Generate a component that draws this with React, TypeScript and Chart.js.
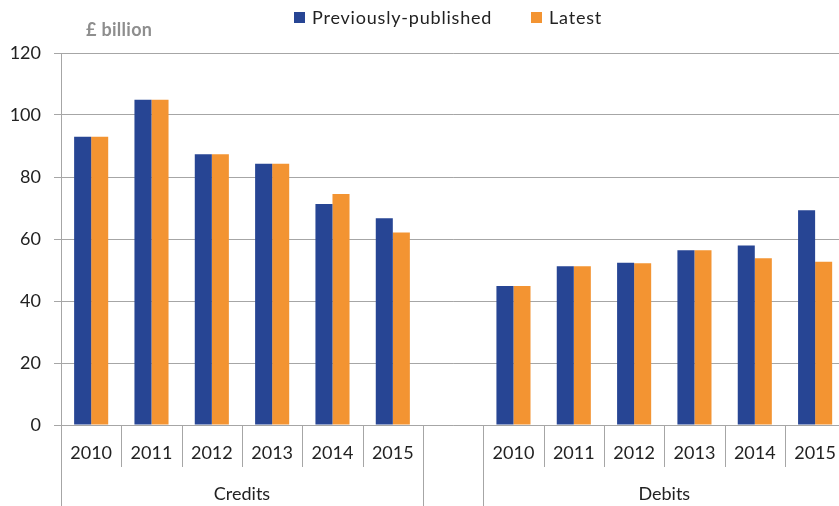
import React, { useEffect, useRef } from "react";
import { Chart, registerables } from "chart.js";

Chart.register(...registerables);

const categories = ["2010", "2011", "2012", "2013", "2014", "2015", "", "2010", "2011", "2012", "2013", "2014", "2015"];
const previouslyPublished = [93, 104.9, 87.3, 84.3, 71.3, 66.7, null, 44.8, 51.2, 52.3, 56.4, 57.9, 69.3];
const latest = [93, 104.9, 87.3, 84.3, 74.5, 62.1, null, 44.8, 51.2, 52.2, 56.4, 53.8, 52.7];
const groupLabels = ["Credits", "Debits"];
const groupStarts = [0, 7];
const groupSizes = [6, 6];
const seriesNames = ["Previously-published", "Latest"];
const unitLabel = "£ billion";
const yMax = 120;
const yStep = 20;

const BLUE = "#274594";
const ORANGE = "#F39432";
const GRID = "#a6a6a6";
const FONT = "Lato";

const overlay = {
  id: "overlay",
  afterDraw(chart: any) {
    const ctx = chart.ctx;
    const area = chart.chartArea;
    const n = chart.data.labels.length;
    const w = (area.right - area.left) / n;
    const H = chart.height;
    ctx.save();
    ctx.strokeStyle = GRID;
    ctx.lineWidth = 1;
    ctx.beginPath();
    ctx.moveTo(Math.round(area.left) + 0.5, area.top);
    ctx.lineTo(Math.round(area.left) + 0.5, H);
    ctx.stroke();
    const groupEdges = new Set<number>();
    groupStarts.forEach((s, i) => {
      groupEdges.add(s);
      groupEdges.add(s + groupSizes[i]);
    });
    for (let i = 1; i <= n; i++) {
      const px = Math.round(area.left + i * w) + 0.5;
      ctx.beginPath();
      ctx.moveTo(px, area.bottom);
      ctx.lineTo(px, groupEdges.has(i) ? H : area.bottom + 42);
      ctx.stroke();
    }
    ctx.fillStyle = "#222";
    ctx.font = `18px ${FONT}`;
    ctx.textAlign = "center";
    ctx.textBaseline = "middle";
    groupLabels.forEach((g, i) => {
      const a = area.left + groupStarts[i] * w;
      const b = area.left + (groupStarts[i] + groupSizes[i]) * w;
      ctx.fillText(g, (a + b) / 2, 494);
    });
    ctx.fillStyle = "#8e8e8e";
    ctx.font = `bold 18px ${FONT}`;
    ctx.textAlign = "left";
    (ctx as any).letterSpacing = "0.3px";
    ctx.fillText(unitLabel, 86, 30);
    const colors = [BLUE, ORANGE];
    const xs = [294, 531];
    ctx.font = `18px ${FONT}`;
    (ctx as any).letterSpacing = "0.8px";
    seriesNames.forEach((s, i) => {
      ctx.fillStyle = colors[i];
      ctx.fillRect(xs[i], 12, 11, 11);
      ctx.fillStyle = "#222";
      ctx.fillText(s, xs[i] + 18, 18);
    });
    ctx.restore();
  },
};

export default function App() {
  const ref = useRef<HTMLCanvasElement>(null);
  useEffect(() => {
    const chart = new Chart(ref.current!, {
      type: "bar",
      data: {
        labels: categories,
        datasets: [
          { label: seriesNames[0], data: previouslyPublished, backgroundColor: BLUE, categoryPercentage: 0.565, barPercentage: 1 },
          { label: seriesNames[1], data: latest, backgroundColor: ORANGE, categoryPercentage: 0.565, barPercentage: 1 },
        ],
      },
      options: {
        responsive: false,
        animation: false,
        layout: { padding: { top: 53, left: 0, right: 0, bottom: 0 } },
        plugins: { legend: { display: false }, tooltip: { enabled: false } },
        scales: {
          x: {
            offset: true,
            grid: { display: false, drawTicks: false },
            border: { display: false },
            ticks: { color: "#222", font: { family: FONT, size: 18 }, padding: 17, maxRotation: 0, autoSkip: false },
            afterFit(scale: any) {
              scale.height = 81;
            },
          },
          y: {
            min: 0,
            max: yMax,
            ticks: { stepSize: yStep, color: "#222", font: { family: FONT, size: 18 }, padding: 13 },
            grid: { color: GRID, tickLength: 7, drawTicks: true },
            border: { display: false },
            afterFit(scale: any) {
              scale.width = 61;
            },
          },
        },
      },
      plugins: [overlay],
    } as any);
    return () => chart.destroy();
  }, []);
  return (
    <div style={{ position: "fixed", left: 0, top: 0, width: 853, height: 506 }}>
      <canvas ref={ref} width={853} height={506} />
    </div>
  );
}
